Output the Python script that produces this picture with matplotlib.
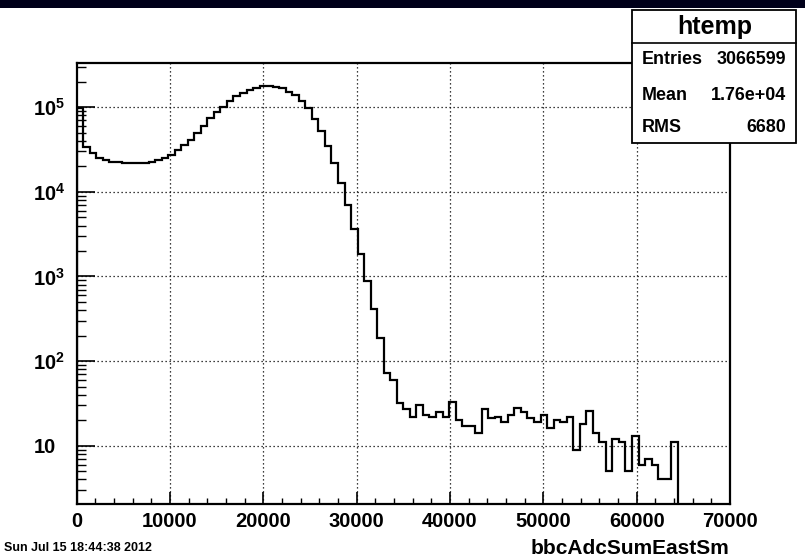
import numpy as np
import matplotlib
matplotlib.use("Agg")
import matplotlib.pyplot as plt
from matplotlib import font_manager
from matplotlib.patches import Rectangle
from matplotlib.transforms import ScaledTranslation
from matplotlib.ticker import FixedLocator, NullFormatter, MultipleLocator

# ---------------- data ----------------
bin_width = 700
counts = [
    99000, 34000, 28600, 25400, 23800, 22700, 22400, 21800, 21800, 21800,
    22100, 22700, 23800, 25400, 27100, 31300, 35800, 41000, 50100, 60400,
    74100, 87000, 102000, 120000, 135000, 148800, 161500, 170500, 179000, 180000,
    175000, 167000, 151500, 140500, 118000, 97000, 73000, 52500, 35200, 21800,
    12800, 7070, 3640, 1840, 880, 417, 190, 73, 60, 32,
    27, 22, 30, 23, 22, 25, 22, 33, 20, 17,
    17, 14, 27, 21, 22, 19, 23, 28, 25, 21,
    19, 23, 16, 20, 19, 22, 9, 18, 26, 14,
    11, 5, 12, 11, 5, 13, 6, 7, 6, 4,
    4, 11,
]
x_ticks = [0, 10000, 20000, 30000, 40000, 50000, 60000, 70000]
x_tick_labels = ["0", "10000", "20000", "30000", "40000", "50000", "60000", "70000"]
y_ticks = [10, 100, 1000, 10000, 100000]
y_tick_labels = ["10", r"$\mathbf{10^{2}}$", r"$\mathbf{10^{3}}$", r"$\mathbf{10^{4}}$", r"$\mathbf{10^{5}}$"]
hist_name = "htemp"
stat_names = ["Entries", "Mean", "RMS"]
stat_values = ["3066599", "1.76e+04", "6680"]
x_title = "bbcAdcSumEastSm"
date_text = "Sun Jul 15 18:44:38 2012"

# ---------------- fonts ----------------
avail = {f.name for f in font_manager.fontManager.ttflist}
FONT = "Liberation Sans" if "Liberation Sans" in avail else "DejaVu Sans"
plt.rcParams["font.family"] = [FONT, "DejaVu Sans"]
plt.rcParams["mathtext.fontset"] = "custom"
plt.rcParams["mathtext.bf"] = FONT + ":bold"
plt.rcParams["mathtext.rm"] = FONT + ":bold"

W, H = 805, 560
fig = plt.figure(figsize=(W / 100, H / 100), dpi=100)
fig.patch.set_facecolor("white")

# top dark bar
fig.patches.append(Rectangle((0, 1 - 8 / H), 1, 8 / H, transform=fig.transFigure,
                             facecolor="#00001a", edgecolor="none", zorder=0))

ax_l, ax_r, ax_t, ax_b = 76.7, 730.0, 62.7, 504.0
ax = fig.add_axes([ax_l / W, 1 - ax_b / H, (ax_r - ax_l) / W, (ax_b - ax_t) / H])

edges = np.arange(len(counts) + 1) * bin_width
ax.stairs(counts, edges, baseline=0.5, color="black", linewidth=1.6, zorder=3)

ax.set_yscale("log")
ax.set_xlim(0, 70000)
ax.set_ylim(2.05, 3.36e5)

# grid
for xv in x_ticks[1:-1]:
    ax.axvline(xv, color="black", linestyle=(0, (1, 2.2)), linewidth=0.9, zorder=1)
for yv in y_ticks:
    ax.axhline(yv, color="black", linestyle=(0, (1, 2.2)), linewidth=0.9, zorder=1)

# ticks
ax.set_xticks(x_ticks)
ax.set_xticklabels(x_tick_labels, fontsize=14.5, fontweight="bold")
ax.xaxis.set_minor_locator(MultipleLocator(2000))
ax.set_yticks(y_ticks)
ax.set_yticklabels(y_tick_labels, fontsize=14.5, fontweight="bold")
minors = [m * 10 ** k for k in range(0, 6) for m in range(2, 10)]
ax.yaxis.set_minor_locator(FixedLocator(minors))
ax.yaxis.set_minor_formatter(NullFormatter())

ax.tick_params(axis="x", which="major", direction="in", length=8.6, width=1.2, pad=6, top=False)
ax.tick_params(axis="x", which="minor", direction="in", length=4.3, width=1.0, top=False)
ax.tick_params(axis="y", which="major", direction="in", length=13, width=1.2, right=False)
ax.tick_params(axis="y", which="minor", direction="in", length=6.5, width=1.0, right=False)

for lab in ax.get_yticklabels():
    lab.set_horizontalalignment("left")
    lab.set_verticalalignment("center_baseline")
    lab.set_transform(lab.get_transform() + ScaledTranslation(-0.42 + 0.035, 0, fig.dpi_scale_trans))

for sp in ax.spines.values():
    sp.set_linewidth(1.6)

# x title and date
fig.text(729 / W, 1 - 548 / H, x_title, ha="right", va="center", fontsize=15, fontweight="bold")
fig.text(4 / W, 1 - 548 / H, date_text, ha="left", va="center", fontsize=9, fontweight="bold")

# stats box
bx0, bx1, by0, by1, bdiv = 632.3, 795.7, 10.0, 142.7, 43.3
fig.patches.append(Rectangle((bx0 / W, 1 - by1 / H), (bx1 - bx0) / W, (by1 - by0) / H,
                             transform=fig.transFigure, facecolor="white", edgecolor="black",
                             linewidth=1.3, zorder=5))
fig.lines.append(plt.Line2D([bx0 / W, bx1 / W], [1 - bdiv / H, 1 - bdiv / H],
                            transform=fig.transFigure, color="black", linewidth=1.2, zorder=6))
fig.text((bx0 + bx1) / 2 / W + 0.001, 1 - 27 / H, hist_name, ha="center", va="center",
         fontsize=18, fontweight="bold", zorder=7)
row_y = [60, 95, 127]
for name, val, yy in zip(stat_names, stat_values, row_y):
    fig.text(641.7 / W, 1 - yy / H, name, ha="left", va="center", fontsize=12.9,
             fontweight="bold", zorder=7)
    fig.text(786 / W, 1 - yy / H, val, ha="right", va="center", fontsize=12.9,
             fontweight="bold", zorder=7)

fig.savefig("out.png", dpi=100)
